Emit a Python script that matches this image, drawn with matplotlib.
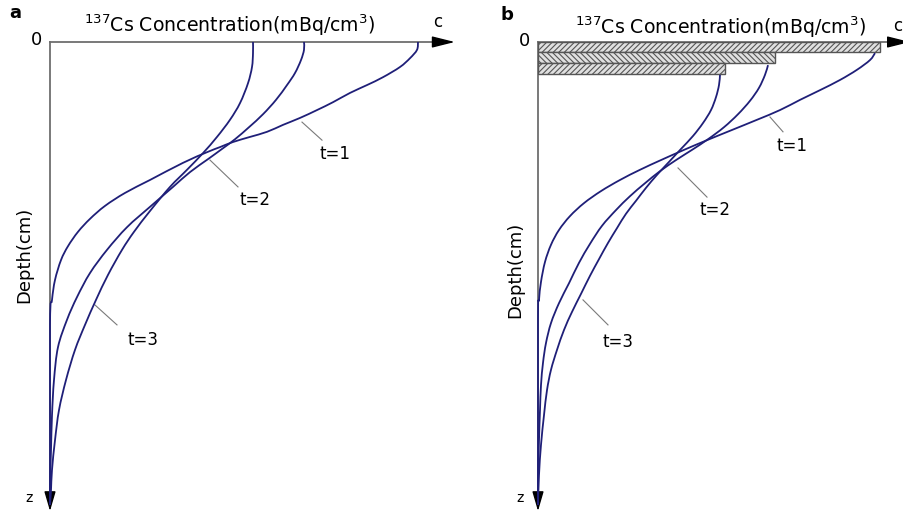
import numpy as np
import matplotlib
matplotlib.use('Agg')
import matplotlib.pyplot as plt
from matplotlib.path import Path
from matplotlib.patches import PathPatch

plt.rcParams['font.family'] = ['DejaVu Sans']
plt.rcParams['mathtext.fontset'] = 'dejavusans'
plt.rcParams['hatch.color'] = '#5a5a5a'
plt.rcParams['hatch.linewidth'] = 0.8

# panel a: concentration profiles (c in mBq/cm3, depth z in cm, arbitrary scale)
a_t1_c = [92, 91.75, 90, 87.5, 83.25, 79.25, 75, 70.75, 66.75, 62.5, 58.25, 54.25, 50,
          45.75, 42.5, 39.25, 33.25, 25, 18.75, 13.75, 10, 7, 4.5, 2.75, 1.25, 0.5, 0, 0]
a_t1_z = [0, 1.7, 3.5, 5.4, 7.6, 9.3, 11.0, 13.0, 14.7, 16.4, 17.9, 19.4, 20.5,
          21.6, 22.7, 23.8, 26.1, 29.8, 32.6, 35.4, 38.2, 41.0, 44.1, 47.1, 51.4, 55.7, 61.1, 100]
a_t2_c = [63.5, 63.5, 62.75, 61.25, 59.25, 56.5, 53.25, 49.75, 46.25, 43, 39.5, 35, 30.75,
          25, 19.25, 14.25, 10, 6.75, 4.25, 2, 1, 0.5, 0.25, 0, 0]
a_t2_z = [0, 1.7, 3.9, 6.7, 9.3, 12.5, 15.6, 18.4, 21.0, 23.1, 25.3, 28.1, 31.3,
          35.6, 40.0, 44.9, 49.9, 55.1, 60.0, 65.9, 73.0, 80.6, 88.1, 95.7, 100]
a_t3_c = [50.75, 50.75, 50.5, 49.5, 47.5, 45, 41.75, 38.25, 34.25, 30, 25, 21, 18,
          14.5, 11.5, 8.75, 6.25, 4, 2.25, 1.25, 0.5, 0.25, 0]
a_t3_z = [0, 2.4, 5.4, 8.9, 13.2, 16.8, 20.5, 24.0, 27.6, 31.3, 36.5, 41.0, 44.9,
          50.3, 55.7, 61.1, 66.5, 73.0, 79.5, 86.0, 92.4, 96.8, 100]

# panel b: surface layers plus profiles below them
layer_top = [0, 2.2, 4.5]
layer_thick = [2.2, 2.3, 2.4]
layer_conc = [85.5, 59.25, 46.75]
layer_hatch = ['//////', '\\\\\\\\\\\\', '//////']

b_t1_c = [84.25, 83, 79.75, 75.5, 70.5, 65.5, 60.5, 54.75, 48.5, 42.25, 36.5, 30.75, 25.5,
          20.5, 15.75, 11.5, 8, 5.25, 3.25, 1.75, 0.75, 0.25, 0, 0]
b_t1_z = [2.4, 3.9, 6.0, 8.2, 10.4, 12.5, 14.7, 16.8, 19.0, 21.2, 23.3, 25.5, 27.6,
          29.8, 32.2, 34.8, 37.6, 40.6, 43.8, 47.5, 51.8, 55.7, 60.0, 100]
b_t2_c = [57.5, 56.75, 55.25, 53, 50, 46.5, 42.5, 38.5, 34.5, 30.5, 26.75, 23, 19.5,
          16, 13, 10.25, 7.75, 5.25, 3.25, 2, 1.25, 0.75, 0.5, 0.25, 0, 0]
b_t2_z = [5.0, 7.1, 9.9, 12.7, 15.6, 18.4, 21.0, 23.3, 25.5, 27.9, 30.5, 33.3, 36.3,
          39.7, 43.6, 47.7, 52.1, 56.4, 60.7, 65.0, 69.3, 74.1, 79.5, 86.0, 94.6, 100]
b_t3_c = [45.5, 45.25, 44.5, 43.25, 41.25, 38.75, 35.75, 32.75, 29.75, 27, 24.5, 22, 19.75,
          17.5, 15.25, 13, 10.75, 8.5, 6.5, 4.75, 3.25, 2.25, 1.5, 0.75, 0.25, 0]
b_t3_z = [7.1, 9.3, 11.9, 14.7, 17.5, 20.3, 23.1, 25.9, 28.7, 31.5, 34.3, 37.1, 40.2,
          43.4, 46.9, 50.5, 54.4, 58.3, 62.2, 66.5, 70.8, 75.2, 80.6, 87.0, 93.5, 100]

labels = ['t=1', 't=2', 't=3']
a_label_pos = [(71.25, 24.2), (51.25, 34.1), (23.25, 64.4)]
a_leaders = [((63, 17.3), (68, 21.2)), ((40, 25.5), (47, 31.3)), ((11.25, 56.8), (16.75, 61.1))]
b_label_pos = [(63.5, 22.5), (44.25, 36.3), (20, 64.8)]
b_leaders = [((58, 16.2), (61.25, 19.4)), ((35, 27.2), (42.25, 33.5)), ((11.25, 55.7), (17.5, 61.1))]

line_col = '#1f1f78'
axis_col = '#6e6e6e'
title = r'$\mathregular{^{137}}$Cs Concentration(mBq/cm$\mathregular{^{3}}$)'

W, H = 904, 515
fig = plt.figure(figsize=(W / 100, H / 100), dpi=100)


def make_axes(left_px, x_tip):
  ax = fig.add_axes([left_px / W, (H - 505) / H, 400 / W, 463 / H])
  ax.set_xlim(0, 100)
  ax.set_ylim(100, 0)
  ax.axis('off')
  # axes lines with arrow heads
  ax.plot([0, x_tip - 4], [0, 0], color=axis_col, lw=1.3, clip_on=False, zorder=1)
  ax.plot([0, 0], [0, 98], color=axis_col, lw=1.3, clip_on=False, zorder=1)
  ax.annotate('', xy=(x_tip, 0), xytext=(x_tip - 5, 0), annotation_clip=False,
              arrowprops=dict(arrowstyle='-|>,head_length=1.4,head_width=0.35',
                              color='black', lw=1, shrinkA=0, shrinkB=0))
  ax.annotate('', xy=(0, 101.3), xytext=(0, 97), annotation_clip=False,
              arrowprops=dict(arrowstyle='-|>,head_length=1.2,head_width=0.35',
                              color='black', lw=1, shrinkA=0, shrinkB=0))
  return ax


def smooth_curve(ax, c, z):
  # draw a smooth bezier path through the read points (catmull-rom handles)
  p = np.column_stack([c, z]).astype(float)
  n = len(p)
  verts = [p[0]]
  codes = [Path.MOVETO]
  for i in range(n - 1):
    prev = p[i - 1] if i > 0 else p[i]
    nxt = p[i + 2] if i + 2 < n else p[i + 1]
    c1 = p[i] + (p[i + 1] - prev) / 6
    c2 = p[i + 1] - (nxt - p[i]) / 6
    c1[0] = max(c1[0], 0)
    c2[0] = max(c2[0], 0)
    verts += [c1, c2, p[i + 1]]
    codes += [Path.CURVE4] * 3
  patch = PathPatch(Path(verts, codes), facecolor='none', edgecolor=line_col,
                    lw=1.3, zorder=3, clip_on=False)
  ax.add_patch(patch)


def add_labels(ax, pos, leaders):
  for lab, (x, y), (p0, p1) in zip(labels, pos, leaders):
    ax.plot([p0[0], p1[0]], [p0[1], p1[1]], color='#7a7a7a', lw=0.8)
    ax.text(x, y, lab, fontsize=12, ha='center', va='center')


# ---- panel a
ax1 = make_axes(50, 101.2)
for c, z in [(a_t1_c, a_t1_z), (a_t2_c, a_t2_z), (a_t3_c, a_t3_z)]:
  smooth_curve(ax1, c, z)
add_labels(ax1, a_label_pos, a_leaders)
ax1.text(45, -3.6, title, fontsize=13.6, ha='center', va='center', clip_on=False)
ax1.text(97, -4.3, 'c', fontsize=12, ha='center', va='center')
ax1.text(-3.3, -0.5, '0', fontsize=13, ha='center', va='center')
ax1.text(-5.25, 98.5, 'z', fontsize=10, ha='center', va='center')
ax1.text(-6.5, 46, 'Depth(cm)', fontsize=13, rotation=90, ha='center', va='center')
fig.text(15 / W, 1 - 13 / H, 'a', fontsize=13, fontweight='bold', ha='center', va='center')

# ---- panel b
ax2 = make_axes(538, 93)
for top, th, conc, hatch in zip(layer_top, layer_thick, layer_conc, layer_hatch):
  ax2.barh(top, conc, height=th, left=0, align='edge', color='#e0e0e0',
           edgecolor='#555555', lw=1, hatch=hatch, zorder=2)
for c, z in [(b_t1_c, b_t1_z), (b_t2_c, b_t2_z), (b_t3_c, b_t3_z)]:
  smooth_curve(ax2, c, z)
add_labels(ax2, b_label_pos, b_leaders)
ax2.text(45.75, -3.2, title, fontsize=13.6, ha='center', va='center', clip_on=False)
ax2.text(89.8, -3.4, 'c', fontsize=12, ha='center', va='center')
ax2.text(-3.25, -0.3, '0', fontsize=13, ha='center', va='center')
ax2.text(-4.5, 98.5, 'z', fontsize=10, ha='center', va='center')
ax2.text(-5.75, 49.2, 'Depth(cm)', fontsize=13, rotation=90, ha='center', va='center')
fig.text(507 / W, 1 - 15 / H, 'b', fontsize=13, fontweight='bold', ha='center', va='center')

fig.savefig('out.png', dpi=100)
